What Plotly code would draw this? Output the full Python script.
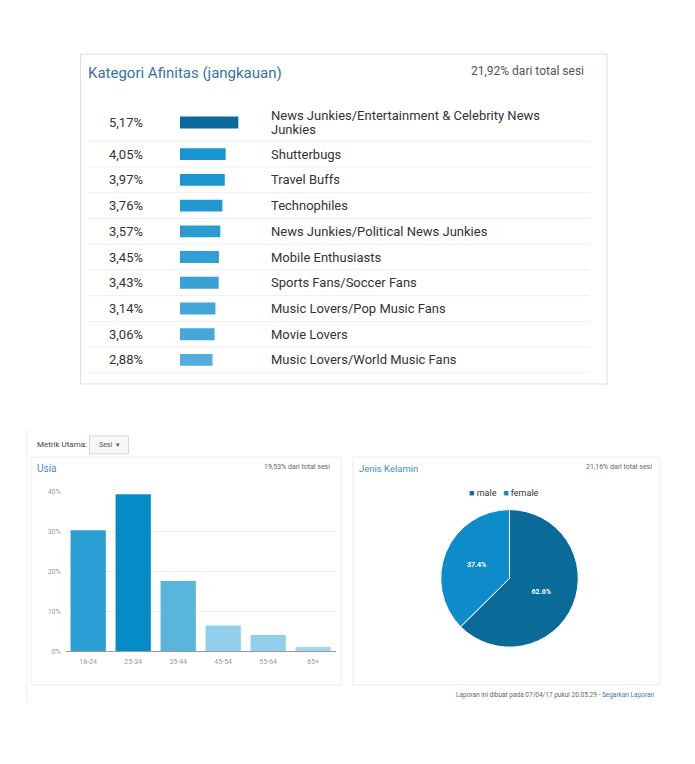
import textwrap
import plotly.graph_objects as go

# the page body has an 8px margin, so the figure sits at (8, 8);
# keep the figure small enough that the page never overflows the window
OFF = 8
W, H = 695 - 2 * OFF, 764 - 2 * OFF
FONT = "Roboto, Arial, sans-serif"

# --- data -----------------------------------------------------------------
affinity_labels = [
    "News Junkies/Entertainment & Celebrity News Junkies",
    "Shutterbugs",
    "Travel Buffs",
    "Technophiles",
    "News Junkies/Political News Junkies",
    "Mobile Enthusiasts",
    "Sports Fans/Soccer Fans",
    "Music Lovers/Pop Music Fans",
    "Movie Lovers",
    "Music Lovers/World Music Fans",
]
affinity_pct = [5.17, 4.05, 3.97, 3.76, 3.57, 3.45, 3.43, 3.14, 3.06, 2.88]
affinity_total = "21,92% dari total sesi"

age_groups = ["18-24", "25-34", "35-44", "45-54", "55-64", "65+"]
age_share = [30.3, 39.3, 17.6, 6.5, 4.1, 1.1]
age_ticks = [0, 10, 20, 30, 40]
age_total = "19,53% dari total sesi"

gender_labels = ["male", "female"]
gender_share = [62.6, 37.4]
gender_total = "21,16% dari total sesi"

report_note = "Laporan ini dibuat pada 07/04/17 pukul 20.05.29"

# --- styling ----------------------------------------------------------------
AFF_COLOURS = ["#0b6a99", "#1796ce", "#1b97cf", "#2398d0", "#2b9cd2",
               "#319fd3", "#36a2d5", "#42a7d7", "#45a8d8", "#52aedb"]
AGE_COLOURS = ["#2a9fd5", "#058cc8", "#5ab5dd", "#91cfec", "#91cfec", "#a3d7ef"]
GENDER_COLOURS = ["#0a6a98", "#0d8cc9"]
TITLE_BLUE = "#3871a9"
BORDER = "#dedede"
LINE_GAP = 15  # line spacing of wrapped table labels


def px(x):
    return (x - OFF) / W


def py(y):
    return 1 - (y - OFF) / H


# row layout for the affinity table (pixel units, first row wraps to two lines)
row_top = 100.7
row_heights = [38] + [26] * (len(affinity_pct) - 1)
row_centers, row_bottoms = [], []
cur = row_top
for h in row_heights:
    row_centers.append(cur + h / 2)
    cur += h
    row_bottoms.append(cur)

bar_px_per_unit = 11.28
bar_left = 180

fig = go.Figure()

# affinity bars
fig.add_trace(go.Bar(
    x=affinity_pct, y=row_centers, orientation="h", width=12,
    marker=dict(color=AFF_COLOURS, line=dict(width=0)),
    xaxis="x", yaxis="y", showlegend=False, hoverinfo="skip",
))

# age bars
fig.add_trace(go.Bar(
    x=age_groups, y=age_share,
    marker=dict(color=AGE_COLOURS, line=dict(width=0)),
    xaxis="x2", yaxis="y2", showlegend=False,
))

# gender pie
fig.add_trace(go.Pie(
    labels=gender_labels, values=gender_share, sort=False,
    direction="clockwise", rotation=0,
    marker=dict(colors=GENDER_COLOURS, line=dict(color="white", width=1)),
    texttemplate="%{percent:.1%}", textposition="inside",
    insidetextfont=dict(color="white", size=7, family=FONT, weight="bold"),
    domain=dict(x=[px(440.2), px(578.8)], y=[py(650), py(511)]),
    showlegend=False,
))

shapes = []
annotations = []

# panel frames
shapes.append(dict(type="rect", xref="paper", yref="paper",
                   x0=px(80.5), x1=px(607), y0=py(384), y1=py(50.5),
                   line=dict(color=BORDER, width=1)))
shapes.append(dict(type="rect", xref="paper", yref="paper",
                   x0=px(31), x1=px(341), y0=py(688), y1=py(458),
                   line=dict(color="#ececec", width=1)))
shapes.append(dict(type="rect", xref="paper", yref="paper",
                   x0=px(353), x1=px(660), y0=py(688), y1=py(458),
                   line=dict(color="#ececec", width=1)))
shapes.append(dict(type="line", xref="paper", yref="paper",
                   x0=px(27), x1=px(27), y0=py(705), y1=py(430),
                   line=dict(color="#ececec", width=1)))
# dropdown button
shapes.append(dict(type="rect", xref="paper", yref="paper",
                   x0=px(89.5), x1=px(128.5), y0=py(454.5), y1=py(436.5),
                   fillcolor="#f7f7f7", line=dict(color="#d6d6d6", width=1)))

# table separators
for b in row_bottoms:
    shapes.append(dict(type="line", xref="paper", yref="y",
                       x0=px(88), x1=px(590), y0=b, y1=b,
                       line=dict(color="#eeeeee", width=1)))

# table texts
for label, val, yc in zip(affinity_labels, affinity_pct, row_centers):
    annotations.append(dict(
        text=f"{val:.2f}".replace(".", ",") + "%",
        xref="paper", yref="y", x=px(107), y=yc,
        xanchor="left", yanchor="middle", showarrow=False,
        font=dict(size=13, color="#333333", family=FONT)))
    lines = textwrap.wrap(label, 45)
    first = yc - LINE_GAP * (len(lines) - 1) / 2
    for i, line in enumerate(lines):
        annotations.append(dict(
            text=line, xref="paper", yref="y", x=px(269), y=first + i * LINE_GAP,
            xanchor="left", yanchor="middle", showarrow=False,
            font=dict(size=13, color="#333333", family=FONT)))


def note(text, x, y, size, color, anchor="left"):
    annotations.append(dict(
        text=text, xref="paper", yref="paper", x=px(x), y=py(y),
        xanchor=anchor, yanchor="middle", showarrow=False,
        font=dict(size=size, color=color, family=FONT)))


note("Kategori Afinitas (jangkauan)", 86, 70, 15, TITLE_BLUE)
note(affinity_total, 586, 68, 12, "#555555", "right")

note("Metrik Utama:", 35, 445, 8, "#444444")
note("Sesi  ▾", 109, 445.5, 7, "#555555", "center")

note("Usia", 35, 469, 10, "#4a8bc2")
note(age_total, 332, 468, 7, "#666666", "right")

note("Jenis Kelamin", 357, 469, 9.5, "#4a8bc2")
note(gender_total, 654, 468, 7, "#666666", "right")

legend_txt = (f"<span style='color:{GENDER_COLOURS[0]}'>■</span> {gender_labels[0]}"
              f"   <span style='color:{GENDER_COLOURS[1]}'>■</span> {gender_labels[1]}")
note(legend_txt, 504, 494, 9, "#333333", "center")

note(report_note + " - <span style='color:#3a78b5'>Segarkan Laporan</span>",
     657, 698, 6.5, "#666666", "right")

fig.update_layout(
    width=W, height=H,
    margin=dict(l=0, r=0, t=0, b=0),
    paper_bgcolor="white", plot_bgcolor="white",
    font=dict(family=FONT),
    bargap=0.216,
    shapes=shapes, annotations=annotations,
    xaxis=dict(domain=[px(bar_left), px(bar_left + bar_px_per_unit * 10)],
               range=[0, 10], visible=False, fixedrange=True),
    yaxis=dict(domain=[0, 1], range=[H + OFF, OFF], visible=False,
               fixedrange=True),
    xaxis2=dict(domain=[px(65.7), px(335.7)], anchor="y2",
                showgrid=False, showline=True, linecolor="#9a9a9a",
                ticks="", ticklabelstandoff=3,
                tickfont=dict(size=7, color="#999999", family=FONT)),
    yaxis2=dict(domain=[py(654.3), py(492.7)], anchor="x2",
                range=[0, 40], tickmode="array", tickvals=age_ticks,
                ticktext=[f"{t}%" for t in age_ticks],
                showgrid=True, gridcolor="#eeeeee", zeroline=False,
                showline=False, ticks="", ticklabelstandoff=4,
                tickfont=dict(size=7, color="#999999", family=FONT)),
)

fig.write_html("out.html")
